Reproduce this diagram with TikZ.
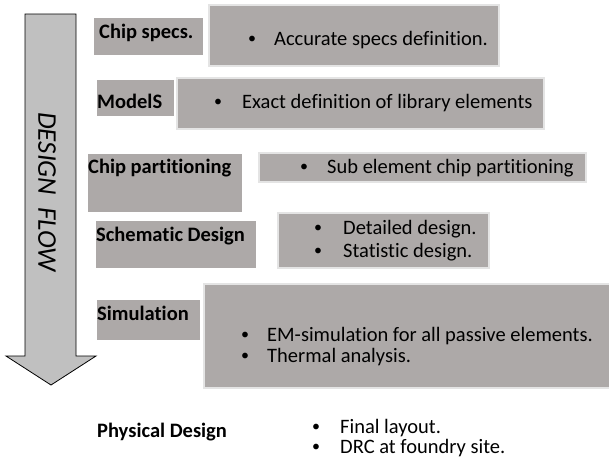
\documentclass[tikz,border=0pt]{standalone}
\usepackage{fontspec}
\setmainfont{Carlito}[Ligatures={NoCommon,NoContextual}]
\definecolor{boxgray}{RGB}{173,169,168}
\definecolor{arrowgray}{RGB}{192,192,192}
\definecolor{edgegray}{RGB}{228,228,228}
\begin{document}
\begin{tikzpicture}[x=1pt,y=-1pt,
  lbl/.style={fill=boxgray,draw=none},
  desc/.style={fill=boxgray,draw=edgegray,line width=1.2pt},
  txt/.style={inner sep=0pt,anchor=west,font=\fontsize{20.5}{24}\selectfont},
  btxt/.style={inner sep=0pt,anchor=west,font=\fontsize{20.5}{24}\selectfont\bfseries},
  bul/.style={inner sep=0pt,font=\fontsize{16}{20}\selectfont}]
\useasboundingbox (0,0) rectangle (609,459);
% arrow
\draw[fill=arrowgray,line width=0.8pt] (25,14) -- (76,14) -- (76,356) -- (96,356) -- (51,385) -- (6,356) -- (25,356) -- cycle;
\node[rotate=-90,inner sep=0pt,font=\fontsize{27}{30}\selectfont\itshape] (flow) at (47,192) {DESIGN\ \ FLOW};
% 1
\fill[lbl] (94,18) rectangle (203,55);
\draw[desc] (209,5) rectangle (499,66);
\node[btxt] (l1) at (99,33) {Chip specs.};
\node[bul] (b1) at (252,40) {•};
\node[txt] (d1) at (274,40) {Accurate specs definition.};
% 2
\fill[lbl] (97,80) rectangle (174,116);
\draw[desc] (177,78) rectangle (544,129);
\node[btxt] (l2) at (97,101) {ModelS};
\node[bul] (b2) at (218,103) {•};
\node[txt] (d2) at (242,103) {Exact definition of library elements};
% 3
\fill[lbl] (88,154) rectangle (242,212);
\draw[desc] (259,153) rectangle (586,182);
\node[btxt] (l3) at (88,168) {Chip partitioning};
\node[bul] (b3) at (304,168) {•};
\node[txt] (d3) at (327,168) {Sub element chip partitioning};
% 4
\fill[lbl] (96,221) rectangle (256,268);
\draw[desc] (278,213) rectangle (489,268);
\node[btxt] (l4) at (96,236) {Schematic Design};
\node[bul] (b4a) at (318,229) {•};
\node[txt] (d4a) at (343,229) {Detailed design.};
\node[bul] (b4b) at (318,252) {•};
\node[txt] (d4b) at (343,252) {Statistic design.};
% 5
\fill[lbl] (97,300) rectangle (200,340);
\draw[desc] (204,284) rectangle (612,388);
\node[btxt] (l5) at (97,313) {Simulation};
\node[bul] (b5a) at (245,336) {•};
\node[txt] (d5a) at (267,336) {EM-simulation for all passive elements.};
\node[bul] (b5b) at (245,357) {•};
\node[txt] (d5b) at (267,357) {Thermal analysis.};
% 6
\node[btxt] (l6) at (97,432) {Physical Design};
\node[bul] (b6a) at (316,428) {•};
\node[txt] (d6a) at (340,428) {Final layout.};
\node[bul] (b6b) at (316,448) {•};
\node[txt] (d6b) at (340,448) {DRC at foundry site.};
\end{tikzpicture}
\end{document}
